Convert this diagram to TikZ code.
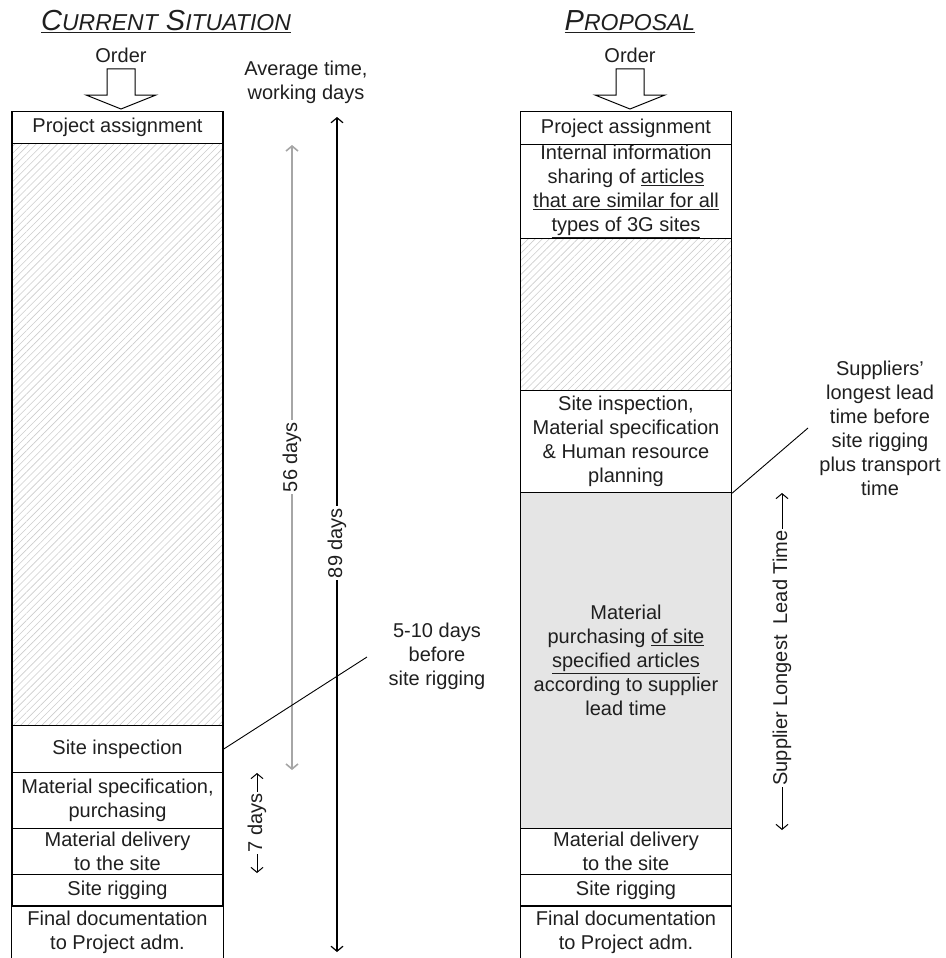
\documentclass[tikz,border=0pt]{standalone}
\usepackage{fontspec}
\setmainfont{Liberation Sans}
\usetikzlibrary{arrows.meta,patterns.meta}

\tikzset{
  txt/.style={font=\fontsize{20}{24}\selectfont, text=black!88, inner sep=0pt, align=center},
  cell/.style={txt, draw, line width=1.2pt, minimum width=211pt, anchor=north},
  hatched/.style={cell, pattern={Lines[angle=45,distance=5pt,line width=0.6pt]}, pattern color=black!20},
  shaded/.style={cell, fill=black!10},
  opencell/.style={txt, minimum width=211pt, anchor=north},
  span/.style={line width=1pt, {Straight Barb[length=5pt,width=12pt]}-{Straight Barb[length=5pt,width=12pt]}},
  spanlabel/.style={txt, fill=white, inner sep=2pt, rotate=90},
  leader/.style={line width=0.9pt},
  orderarrow/.pic={
    \draw[line width=1pt, fill=white] (-14,-40) -- (-14,-14) -- (-35,-14) -- (0,0)
      -- (35,-14) -- (14,-14) -- (14,-40) -- cycle;
  }
}

\newcommand{\smallcap}[1]{{\fontsize{23}{26}\selectfont #1}}

\begin{document}
\begin{tikzpicture}[x=1pt,y=-1pt]
\useasboundingbox (0,0) rectangle (945,958);

% ---------- current situation ----------
\node[txt] (ltitle) at (166,22) {\underline{\itshape\fontsize{29}{32}\selectfont C\smallcap{URRENT} S\smallcap{ITUATION}}};
\node[txt] (lorder) at (121,55) {Order};
\pic at (121,109) {orderarrow};

\node[cell, minimum height=32pt] (lpa) at (117.5,111) {Project assignment};
\node[hatched, minimum height=582pt] (lwait) at (117.5,143) {};
\node[cell, minimum height=47pt] (lsinsp) at (117.5,725) {Site inspection};
\node[cell, minimum height=56pt] (lspec) at (117.5,772) {Material specification,\\purchasing};
\node[cell, minimum height=46pt] (ldel) at (117.5,828) {Material delivery\\to the site};
\node[cell, minimum height=32pt] (lrig) at (117.5,874) {Site rigging};
\node[opencell, minimum height=52pt] (ldoc) at (117.5,906) {Final documentation\\to Project adm.};
\draw[line width=1.2pt] (ldoc.south west) -- (ldoc.north west) -- (ldoc.north east) -- (ldoc.south east);

% time spans
\node[txt] (avg) at (306,82) {Average time,\\working days};
\coordinate (t56a) at (292,145);
\coordinate (t56b) at (292,770);
\draw[span, line width=1.6pt, draw=black!35] (t56a) -- (t56b);
\node[spanlabel] (l56) at (292,457) {56 days};
\coordinate (t89a) at (337,117);
\coordinate (t89b) at (337,952);
\draw[span, line width=1.2pt] (t89a) -- (t89b);
\node[spanlabel] (l89) at (337,543) {89 days};
\coordinate (t7a) at (257,773);
\coordinate (t7b) at (257,873);
\draw[span] (t7a) -- (t7b);
\node[spanlabel] (l7) at (257,823) {7 days};

% note on site inspection
\coordinate (lnoteend) at (367,657);
\draw[leader] (lsinsp.east) -- (lnoteend);
\node[txt] (lnote) at (437,656) {5-10 days\\before\\site rigging};

% ---------- proposal ----------
\node[txt] (rtitle) at (630,22) {\underline{\itshape\fontsize{29}{32}\selectfont P\smallcap{ROPOSAL}}};
\node[txt] (rorder) at (630,55) {Order};
\pic at (630,109) {orderarrow};

\node[cell, minimum height=33pt] (rpa) at (626,111) {Project assignment};
\node[cell, minimum height=94pt] (rinfo) at (626,144) {Internal information\\sharing of \underline{articles}\\\underline{that are similar for all}\\\underline{types of 3G sites}};
\node[hatched, minimum height=152pt] (rwait) at (626,238) {};
\node[cell, minimum height=102pt] (rsite) at (626,390) {Site inspection,\\Material specification\\\& Human resource\\planning};
\node[shaded, minimum height=336pt] (rbuy) at (626,492) {Material\\purchasing \underline{of site}\\\underline{specified articles}\\according to supplier\\lead time};
\node[cell, minimum height=46pt] (rdel) at (626,828) {Material delivery\\to the site};
\node[cell, minimum height=32pt] (rrig) at (626,874) {Site rigging};
\node[opencell, minimum height=52pt] (rdoc) at (626,906) {Final documentation\\to Project adm.};
\draw[line width=1.2pt] (rdoc.south west) -- (rdoc.north west) -- (rdoc.north east) -- (rdoc.south east);

% supplier lead time
\coordinate (sla) at (782,493);
\coordinate (slb) at (782,830);
\draw[span] (sla) -- (slb);
\node[spanlabel] (lsl) at (782,658) {Supplier Longest\ \ Lead Time};

% note on purchasing start
\coordinate (rnoteend) at (808,428);
\draw[leader] (rsite.south east) -- (rnoteend);
\node[txt] (rnote) at (880,428) {Suppliers'\\longest lead\\time before\\site rigging\\plus transport\\time};
\end{tikzpicture}
\end{document}
